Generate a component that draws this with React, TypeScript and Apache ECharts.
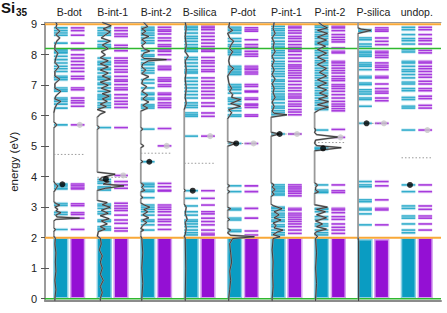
import React, { useEffect, useRef } from "react";
import * as echarts from "echarts";

const panels = ["B-dot", "B-int-1", "B-int-2", "B-silica", "P-dot", "P-int-1", "P-int-2", "P-silica", "undop."];
const yTicks = [0, 1, 2, 3, 4, 5, 6, 7, 8, 9];

// valence band (filled) bottom / top per panel, eV
const vbBottom = [0.03, 0.03, 0.03, 0.03, 0.03, 0.03, 0.03, 0.03, 0.03];
const vbTop = [1.98, 1.98, 1.98, 1.98, 1.98, 1.98, 1.98, 1.93, 1.98];

// discrete levels (eV), cyan column and purple column of each panel
const cyanLevels: number[][] = [
  [8.88, 8.79, 8.71, 8.64, 8.38, 8.16, 8.11, 8.06, 7.95, 7.84, 7.73, 7.62, 7.54, 7.45, 7.29, 7.24, 7.18, 6.91, 6.85, 6.8, 6.58, 6.53, 6.47, 6.38, 6.25, 5.7, 3.76, 3.72, 3.66, 3.6, 3.12, 3.06, 2.83, 2.76, 2.27],
  [8.88, 8.79, 8.71, 8.64, 8.44, 8.33, 8.27, 8.22, 7.89, 7.78, 7.73, 7.67, 7.56, 7.51, 7.4, 7.29, 7.24, 7.18, 7.07, 7.02, 6.91, 6.8, 6.69, 6.64, 6.58, 6.53, 6.42, 6.34, 6.27, 5.61, 3.91, 3.84, 3.78, 3.67, 3.62, 3.56, 3.1, 3.04, 2.96, 2.85, 2.78, 2.58, 2.53, 2.36, 2.3, 2.25],
  [8.9, 8.84, 8.79, 8.71, 8.64, 8.55, 8.46, 8.38, 8.13, 8.0, 7.95, 7.84, 7.73, 7.67, 7.56, 7.48, 7.4, 7.18, 7.07, 6.91, 6.74, 6.69, 6.58, 6.53, 6.36, 6.31, 6.25, 5.56, 4.49, 3.78, 3.73, 3.67, 3.56, 3.51, 3.31, 3.07, 3.0, 2.93, 2.85, 2.74, 2.58, 2.53, 2.42, 2.25],
  [8.93, 8.88, 8.82, 8.71, 8.6, 8.53, 8.44, 8.33, 8.24, 8.16, 8.11, 7.91, 7.84, 7.73, 7.62, 7.51, 7.45, 7.4, 7.24, 7.13, 7.02, 6.91, 6.8, 6.69, 6.58, 6.42, 6.34, 6.27, 6.09, 6.03, 5.98, 5.33, 3.54, 3.29, 3.04, 2.85, 2.74, 2.58, 2.53, 2.45, 2.36, 2.25, 2.16, 2.09],
  [8.9, 8.84, 8.79, 8.71, 8.53, 8.44, 8.33, 8.27, 8.16, 8.11, 8.06, 8.0, 7.62, 7.56, 7.51, 7.45, 7.4, 7.35, 7.02, 6.96, 6.91, 6.85, 6.74, 6.58, 6.53, 6.47, 6.38, 6.25, 6.16, 6.03, 5.98, 5.09, 3.7, 3.51, 2.96, 2.91, 2.64, 2.58, 2.25, 2.2],
  [8.93, 8.85, 8.79, 8.71, 8.64, 8.55, 8.44, 8.35, 8.27, 8.22, 8.13, 8.06, 7.98, 7.89, 7.78, 7.7, 7.62, 7.54, 7.45, 7.37, 7.29, 7.18, 7.13, 7.04, 6.96, 6.89, 6.8, 6.71, 6.64, 6.58, 6.53, 6.42, 6.31, 6.25, 6.16, 6.09, 6.03, 5.4, 3.73, 3.67, 3.62, 3.56, 3.51, 3.45, 3.4, 3.0, 2.96, 2.89, 2.8, 2.74, 2.67, 2.58, 2.53, 2.42, 2.36, 2.25, 2.16, 2.09],
  [8.96, 8.9, 8.82, 8.74, 8.66, 8.6, 8.53, 8.44, 8.38, 8.33, 8.22, 8.13, 8.06, 7.98, 7.89, 7.8, 7.73, 7.65, 7.56, 7.48, 7.4, 7.32, 7.24, 7.15, 7.07, 7.0, 6.91, 6.82, 6.74, 6.67, 6.58, 6.49, 6.42, 6.34, 6.25, 6.2, 5.53, 4.96, 4.93, 4.9, 3.73, 3.56, 3.51, 3.48, 2.96, 2.93, 2.85, 2.69, 2.6, 2.45, 2.38, 2.25, 2.16, 2.09],
  [8.82, 8.77, 8.55, 8.49, 8.35, 8.27, 8.11, 8.06, 8.0, 7.95, 7.73, 7.67, 7.62, 7.51, 7.29, 7.24, 7.07, 7.02, 6.85, 6.78, 6.71, 6.58, 6.53, 6.31, 5.75, 3.84, 3.73, 3.67, 3.24, 3.18, 2.96, 2.91, 2.78, 2.42],
  [8.9, 8.82, 8.66, 8.53, 8.46, 8.35, 8.16, 8.09, 7.78, 7.73, 7.62, 7.51, 7.45, 7.35, 7.24, 7.1, 7.04, 6.89, 6.82, 6.6, 6.53, 6.31, 6.25, 5.53, 3.73, 3.51, 3.04, 2.96, 2.71, 2.64, 2.45, 2.25, 2.16],
];
const purpleLevels: number[][] = [
  [8.88, 8.79, 8.64, 8.38, 8.16, 8.0, 7.89, 7.78, 7.67, 7.56, 7.45, 7.29, 7.21, 6.91, 6.85, 6.58, 6.49, 6.42, 6.31, 5.7, 3.76, 3.71, 3.65, 3.6, 3.11, 3.05, 2.82, 2.76, 2.64, 2.27],
  [8.88, 8.79, 8.68, 8.6, 8.31, 8.22, 8.13, 7.89, 7.8, 7.73, 7.62, 7.51, 7.43, 7.29, 7.18, 7.13, 7.02, 6.91, 6.85, 6.69, 6.58, 6.47, 6.38, 6.27, 5.61, 4.04, 3.84, 3.73, 3.62, 3.13, 3.04, 2.96, 2.89, 2.74, 2.58, 2.47, 2.31, 2.22],
  [8.9, 8.82, 8.77, 8.68, 8.55, 8.46, 8.33, 8.27, 8.16, 8.11, 8.0, 7.84, 7.62, 7.56, 7.51, 7.24, 7.18, 7.13, 7.02, 6.96, 6.74, 6.69, 6.58, 6.53, 6.42, 6.34, 6.27, 5.58, 5.01, 3.78, 3.67, 3.56, 3.53, 3.07, 3.0, 2.93, 2.85, 2.74, 2.6, 2.53, 2.42, 2.27],
  [8.93, 8.88, 8.82, 8.71, 8.6, 8.49, 8.38, 8.27, 8.16, 8.11, 7.91, 7.8, 7.73, 7.62, 7.51, 7.45, 7.24, 7.13, 7.02, 6.91, 6.8, 6.69, 6.58, 6.42, 6.31, 6.09, 5.98, 5.33, 3.54, 3.29, 3.07, 2.85, 2.78, 2.64, 2.53, 2.42, 2.25, 2.14, 2.09],
  [8.88, 8.82, 8.77, 8.49, 8.33, 8.24, 8.11, 8.02, 7.95, 7.62, 7.56, 7.51, 7.43, 7.37, 7.02, 6.96, 6.82, 6.78, 6.58, 6.53, 6.38, 6.34, 6.27, 6.03, 5.98, 5.09, 3.7, 3.51, 2.96, 2.64, 2.22, 2.09],
  [8.93, 8.88, 8.79, 8.71, 8.6, 8.53, 8.44, 8.33, 8.24, 8.16, 8.11, 8.0, 7.89, 7.78, 7.67, 7.62, 7.56, 7.48, 7.4, 7.32, 7.24, 7.13, 7.02, 6.91, 6.82, 6.71, 6.64, 6.58, 6.47, 6.38, 6.31, 6.2, 6.12, 6.03, 5.4, 3.73, 3.67, 3.62, 3.56, 3.51, 3.45, 3.37, 2.96, 2.91, 2.8, 2.74, 2.67, 2.6, 2.53, 2.45, 2.36, 2.25, 2.14],
  [8.93, 8.88, 8.79, 8.66, 8.57, 8.49, 8.42, 8.22, 8.11, 8.06, 7.78, 7.73, 7.65, 7.56, 7.48, 7.4, 7.29, 7.21, 7.15, 7.02, 6.96, 6.89, 6.8, 6.69, 6.58, 6.47, 6.38, 6.31, 6.23, 6.16, 5.55, 5.29, 3.73, 3.54, 3.48, 2.96, 2.91, 2.82, 2.69, 2.6, 2.45, 2.34, 2.25, 2.14],
  [8.88, 8.82, 8.77, 8.55, 8.44, 8.33, 8.11, 8.06, 7.98, 7.91, 7.73, 7.65, 7.59, 7.51, 7.29, 7.24, 7.04, 6.89, 6.8, 6.74, 6.58, 6.49, 5.75, 3.84, 3.7, 3.24, 2.96, 2.91, 2.42],
  [8.9, 8.82, 8.66, 8.53, 8.46, 8.35, 8.14, 8.06, 7.78, 7.73, 7.62, 7.54, 7.45, 7.35, 7.26, 7.13, 7.04, 6.89, 6.82, 6.64, 6.56, 6.34, 6.25, 5.53, 3.73, 3.51, 3.04, 2.93, 2.71, 2.64, 2.45, 2.25],
];

// defect levels: black dots (cyan column) and grey dots (purple column)
const defectCyan = [3.75, 3.92, 4.49, 3.54, 5.09, 5.4, 4.93, 5.75, 3.73];
const defectPurple = [5.7, 4.04, 5.01, 5.33, 5.09, 5.4, 5.29, 5.75, 5.53];
// dotted reference level per panel
const dottedLevel = [4.73, 3.98, 4.77, 4.44, 5.09, 5.4, 5.12, 5.75, 4.62];

const orangeLines = [2, 9];
const greenLines = [0, 8.2];

// density of states curves: [energy eV, DOS (arb.)]; null = no curve
const dos: ([number, number][] | null)[] = [
  [[-0.08, 1], [0.0, 1], [0.3, 2], [0.6, 1], [0.9, 2], [1.2, 1.5], [1.5, 2], [1.8, 1], [1.98, 1.5], [2.05, 0], [2.2, 0], [2.27, 1.5], [2.32, 0], [2.55, 0], [2.6, 2], [2.64, 26], [2.68, 3], [2.74, 2], [2.82, 7], [2.88, 2], [2.93, 4], [3.0, 1], [3.07, 6], [3.12, 2], [3.18, 0], [3.5, 0], [3.6, 2], [3.7, 4], [3.78, 1], [3.85, 0], [5.6, 0], [5.7, 3], [5.8, 0], [6.1, 0], [6.25, 1], [6.38, 3], [6.47, 7], [6.55, 1], [6.65, 2], [6.8, 7], [6.9, 1], [7.05, 1], [7.2, 6], [7.3, 1], [7.45, 1], [7.6, 5], [7.75, 1], [7.9, 2], [8.05, 4], [8.16, 1], [8.3, 1], [8.45, 3], [8.55, 6], [8.66, 2], [8.77, 6], [8.88, 2], [9.0, 3], [9.06, 2]],
  [[-0.08, 3], [0, 3], [0.2, 5], [0.4, 3], [0.6, 6], [0.8, 3], [1.0, 5], [1.2, 3], [1.4, 5], [1.6, 2], [1.8, 4], [1.98, 3], [2.05, 0], [2.2, 1], [2.28, 8], [2.36, 3], [2.45, 10], [2.55, 4], [2.62, 12], [2.72, 3], [2.8, 11], [2.9, 4], [3.0, 13], [3.08, 5], [3.15, 10], [3.22, 0], [3.55, 0], [3.62, 8], [3.7, 27], [3.76, 6], [3.84, 12], [3.9, 2], [3.98, 5], [4.08, 18], [4.15, 0], [5.55, 0], [5.61, 2], [5.68, 0], [5.95, 0], [6.05, 3], [6.12, 8], [6.2, 0], [6.25, 4], [6.3, 9], [6.38, 3], [6.47, 10], [6.55, 5], [6.64, 12], [6.72, 5], [6.8, 13], [6.9, 4], [7.0, 11], [7.1, 3], [7.2, 13], [7.3, 5], [7.4, 11], [7.5, 3], [7.6, 11], [7.7, 3], [7.8, 11], [7.9, 3], [8.0, 8], [8.1, 4], [8.2, 11], [8.32, 5], [8.45, 13], [8.55, 4], [8.65, 8], [8.75, 13], [8.85, 6], [8.95, 14], [9.06, 5]],
  [[-0.08, 1], [0, 1], [0.5, 2], [1, 1], [1.5, 2], [1.98, 1], [2.05, 0], [2.2, 0], [2.25, 3], [2.3, 0], [2.4, 2], [2.5, 6], [2.58, 2], [2.65, 8], [2.75, 2], [2.85, 7], [2.92, 3], [3.0, 9], [3.08, 3], [3.14, 0], [3.28, 0], [3.32, 2], [3.38, 0], [3.5, 0], [3.55, 4], [3.65, 1], [3.73, 3], [3.8, 0], [4.45, 0], [4.49, 2], [4.55, 0], [4.95, 0], [5.01, 3], [5.08, 0], [5.5, 0], [5.56, 2], [5.62, 0], [6.15, 0], [6.25, 7], [6.34, 2], [6.45, 8], [6.55, 2], [6.68, 7], [6.8, 1], [6.95, 6], [7.05, 1], [7.18, 2], [7.28, 8], [7.38, 1], [7.5, 5], [7.6, 1], [7.7, 2], [7.8, 8], [7.84, 26], [7.88, 3], [7.95, 1], [8.05, 3], [8.12, 9], [8.2, 3], [8.3, 1], [8.4, 5], [8.5, 1], [8.6, 8], [8.68, 1], [8.77, 5], [8.85, 1], [8.92, 7], [9.06, 3]],
  [[-0.08, 1], [0, 1], [1, 1.5], [1.98, 1], [2.05, 0], [2.1, 1], [2.3, 2], [2.5, 1], [2.6, 3], [2.8, 1], [3.0, 2], [3.1, 0], [3.5, 0], [3.54, 1], [3.6, 0], [6.2, 0], [6.4, 2], [6.6, 1], [6.9, 2], [7.2, 1], [7.5, 2], [7.8, 1], [7.95, 4], [8.1, 1], [8.3, 2], [8.6, 1], [8.9, 2], [9.06, 1]],
  [[-0.08, 1], [0, 1], [0.3, 2], [0.6, 3], [0.9, 2], [1.2, 4], [1.5, 3], [1.8, 2], [1.97, 5], [2.03, 27], [2.08, 3], [2.15, 0], [2.2, 1], [2.25, 3], [2.3, 0], [2.55, 0], [2.6, 2], [2.65, 0], [2.9, 0], [2.95, 3], [3.0, 0], [3.45, 0], [3.51, 2], [3.56, 0], [3.65, 0], [3.7, 2], [3.75, 0], [5.0, 0], [5.09, 8], [5.15, 0], [5.9, 0], [6.0, 2], [6.1, 4], [6.2, 1], [6.31, 13], [6.4, 3], [6.53, 13], [6.6, 4], [6.7, 5], [6.8, 2], [6.9, 4], [7.0, 2], [7.1, 1], [7.3, 0], [7.45, 3], [7.55, 6], [7.65, 2], [7.8, 1], [7.95, 2], [8.1, 5], [8.2, 2], [8.3, 3], [8.45, 6], [8.55, 2], [8.7, 0], [8.8, 5], [8.9, 1], [9.06, 2]],
  [[-0.08, 1], [0, 1], [0.4, 2], [0.8, 1.5], [1.2, 2], [1.6, 1], [1.97, 2], [2.03, 9], [2.1, 2], [2.18, 6], [2.25, 12], [2.32, 3], [2.4, 5], [2.48, 2], [2.58, 10], [2.65, 3], [2.75, 8], [2.85, 3], [2.95, 11], [3.05, 2], [3.1, 0], [3.35, 0], [3.42, 3], [3.5, 1], [3.58, 4], [3.66, 1], [3.73, 3], [3.8, 0], [5.33, 0], [5.4, 8], [5.46, 0], [5.95, 0], [6.03, 16], [6.08, 3], [6.15, 1], [6.3, 3], [6.45, 1], [6.6, 4], [6.75, 2], [6.9, 3], [7.05, 1], [7.2, 4], [7.35, 1], [7.5, 3], [7.65, 1], [7.8, 3], [7.95, 1], [8.1, 4], [8.25, 2], [8.4, 3], [8.55, 1], [8.7, 4], [8.85, 2], [9.06, 3]],
  [[-0.08, 1], [0, 1], [0.5, 2], [1, 1], [1.5, 2], [1.97, 1], [2.05, 3], [2.12, 0], [2.2, 2], [2.28, 12], [2.36, 2], [2.45, 8], [2.55, 1], [2.65, 12], [2.75, 2], [2.85, 11], [2.93, 2], [3.0, 13], [3.08, 0], [3.45, 0], [3.5, 4], [3.56, 1], [3.65, 1], [3.73, 3], [3.8, 0], [4.85, 0], [4.95, 27], [5.02, 2], [5.1, 0], [5.2, 1], [5.3, 24], [5.38, 2], [5.45, 0], [5.53, 1], [5.6, 0], [6.1, 0], [6.2, 5], [6.28, 14], [6.36, 3], [6.46, 14], [6.55, 4], [6.64, 13], [6.74, 5], [6.85, 12], [6.95, 3], [7.07, 12], [7.18, 3], [7.3, 12], [7.42, 5], [7.55, 12], [7.68, 3], [7.8, 11], [7.92, 3], [8.05, 12], [8.17, 3], [8.28, 11], [8.38, 3], [8.48, 12], [8.58, 3], [8.7, 13], [8.8, 3], [8.88, 13], [8.96, 8], [9.06, 4]],
  [[-0.08, 0.5], [1.9, 0.5], [2.0, 0], [8.7, 0], [8.76, 8], [8.8, 13], [8.84, 3], [8.88, 0], [9.06, 0]],
  null,
];

// layout (fractions of a panel): cyan column, purple column
const C0 = 9 / 44, C1 = 23 / 44, P0 = 26 / 44, P1 = 40 / 44;
const XMAX = 401 / 44;
const DOS_SCALE = 1 / 44;
const Y_MIN = -0.08, Y_MAX = 9.06;

const CYAN = "#0a9cc2";
const CYAN_LIGHT = "#8ad0e4";
const PURPLE = "#9410d4";
const PURPLE_LIGHT = "#d6a2f0";
const ORANGE = "#f8a838";
const GREEN = "#2fb82f";
const FONT = "Liberation Sans, Arial, sans-serif";

export default function App() {
  const ref = useRef<HTMLDivElement>(null);
  useEffect(() => {
    const chart = echarts.init(ref.current!, null, { renderer: "svg" });

    const levelData: number[][] = [];
    panels.forEach((_, p) => {
      cyanLevels[p].forEach((e) => levelData.push([p, 0, e]));
      purpleLevels[p].forEach((e) => levelData.push([p, 1, e]));
    });
    const vbData: number[][] = [];
    panels.forEach((_, p) => {
      vbData.push([p, 0, vbBottom[p], vbTop[p]]);
      vbData.push([p, 1, vbBottom[p], vbTop[p]]);
    });

    const series: any[] = [];

    series.push({
      type: "custom",
      clip: false,
      z: 2,
      silent: true,
      data: vbData,
      renderItem: (params: any, api: any) => {
        const p = api.value(0), k = api.value(1);
        const x0 = p + (k === 0 ? C0 : P0), x1 = p + (k === 0 ? C1 : P1);
        const a = api.coord([x0, api.value(3)]);
        const b = api.coord([x1, api.value(2)]);
        return {
          type: "rect",
          shape: { x: a[0], y: a[1], width: b[0] - a[0], height: b[1] - a[1] },
          style: { fill: k === 0 ? CYAN : PURPLE, stroke: k === 0 ? CYAN_LIGHT : PURPLE_LIGHT, lineWidth: 1.5 },
        };
      },
    });

    series.push({
      type: "custom",
      clip: false,
      z: 3,
      silent: true,
      data: levelData,
      renderItem: (params: any, api: any) => {
        const p = api.value(0), k = api.value(1), e = api.value(2);
        const x0 = p + (k === 0 ? C0 : P0), x1 = p + (k === 0 ? C1 : P1);
        const a = api.coord([x0, e]);
        const b = api.coord([x1, e]);
        return {
          type: "group",
          children: [
            { type: "rect", shape: { x: a[0], y: a[1] - 1.8, width: b[0] - a[0], height: 3.6 }, style: { fill: k === 0 ? CYAN_LIGHT : PURPLE_LIGHT, opacity: 0.35 } },
            { type: "rect", shape: { x: a[0], y: a[1] - 0.8, width: b[0] - a[0], height: 1.6 }, style: { fill: k === 0 ? CYAN : PURPLE, opacity: 0.8 } },
          ],
        };
      },
    });

    // dotted reference lines
    series.push({
      type: "custom",
      clip: false,
      z: 4,
      silent: true,
      data: dottedLevel.map((e, p) => [p, e]),
      renderItem: (params: any, api: any) => {
        const p = api.value(0), e = api.value(1);
        const a = api.coord([p + C0, e]);
        const b = api.coord([p + P1, e]);
        return {
          type: "line",
          shape: { x1: a[0], y1: a[1], x2: b[0], y2: b[1] },
          style: { stroke: "#9a9a9a", lineWidth: 1, lineDash: [1.5, 2] },
        };
      },
    });

    const hline = (e: number, color: string, width: number) => ({
      type: "line",
      data: [[0, e], [XMAX, e]],
      symbol: "none",
      silent: true,
      z: 5,
      lineStyle: { color, width },
    });
    orangeLines.forEach((e) => series.push(hline(e, ORANGE, 2)));
    greenLines.forEach((e) => series.push(hline(e, GREEN, 1.5)));

    dos.forEach((curve, p) => {
      if (!curve) return;
      const pts = curve.map(([e, d]) => [p + C0 + d * DOS_SCALE, e]);
      // black curve: break where the DOS stays at zero (gaps show only the grey curve)
      const black: any[] = [];
      curve.forEach(([e, d], i) => {
        black.push([p + C0 + d * DOS_SCALE, e]);
        const next = curve[i + 1];
        if (next && d === 0 && next[1] === 0) black.push(["-", "-"]);
      });
      series.push({
        type: "line", data: pts, symbol: "none", silent: true, z: 6,
        lineStyle: { color: "#999999", width: 1.8 },
      });
      series.push({
        type: "line", data: black, symbol: "none", silent: true, z: 7, connectNulls: false,
        lineStyle: { color: "#222222", width: 0.75 },
      });
    });

    series.push({
      type: "scatter",
      data: defectCyan.map((e, p) => [p + 0.4, e]),
      symbolSize: 6,
      itemStyle: { color: "#000" },
      z: 8,
      silent: true,
    });
    series.push({
      type: "scatter",
      data: defectPurple.map((e, p) => [p + 0.8, e]),
      symbolSize: 6,
      itemStyle: { color: "#c8c8c8" },
      z: 8,
      silent: true,
    });

    const centers = panels.map((_, i) => i + (C0 + P1) / 2);

    chart.setOption({
      animation: false,
      backgroundColor: "#fff",
      grid: { left: 40, right: 6, top: 22.4, bottom: 11.9 },
      graphic: [
        { type: "text", left: 1, top: 0, style: { text: "Si", font: `bold 15px ${FONT}`, fill: "#111" } },
        { type: "text", left: 16, top: 7, style: { text: "35", font: `bold 10px ${FONT}`, fill: "#111" } },
      ],
      xAxis: [
        {
          type: "value", min: 0, max: XMAX, position: "bottom",
          axisLine: { show: true, onZero: false, lineStyle: { color: "#8c8c8c", width: 2 } },
          axisTick: { show: false }, axisLabel: { show: false }, splitLine: { show: false },
        },
        {
          type: "value", min: 0, max: XMAX, position: "top",
          axisLine: { show: true, onZero: false, lineStyle: { color: "#9a9a9a", width: 1 } },
          axisTick: { show: false }, splitLine: { show: false },
          axisLabel: {
            show: true, customValues: centers, margin: 5, fontSize: 10.5, color: "#222", fontFamily: FONT,
            formatter: (v: number) => panels[Math.round(v - (C0 + P1) / 2)] ?? "",
          },
        },
      ],
      yAxis: [
        {
          type: "value", min: Y_MIN, max: Y_MAX, position: "left",
          name: "energy (eV)", nameLocation: "middle", nameGap: 25,
          nameTextStyle: { fontSize: 11.5, color: "#222", fontFamily: FONT },
          axisLine: { show: true, onZero: false, lineStyle: { color: "#7a7a7a", width: 1.5 } },
          axisTick: { show: true, inside: true, length: 4, customValues: yTicks, lineStyle: { color: "#555" } },
          axisLabel: { show: true, customValues: yTicks, fontSize: 11, color: "#222", margin: 8, fontFamily: FONT },
          splitLine: { show: false },
        },
        {
          type: "value", min: Y_MIN, max: Y_MAX, position: "right",
          axisLine: { show: false },
          axisTick: { show: true, inside: true, length: 4, customValues: yTicks, lineStyle: { color: "#555" } },
          axisLabel: { show: false },
          splitLine: { show: false },
        },
      ],
      series,
    });
    return () => chart.dispose();
  }, []);
  return <div ref={ref} style={{ position: "absolute", left: 0, top: 0, width: 447, height: 313 }} />;
}
